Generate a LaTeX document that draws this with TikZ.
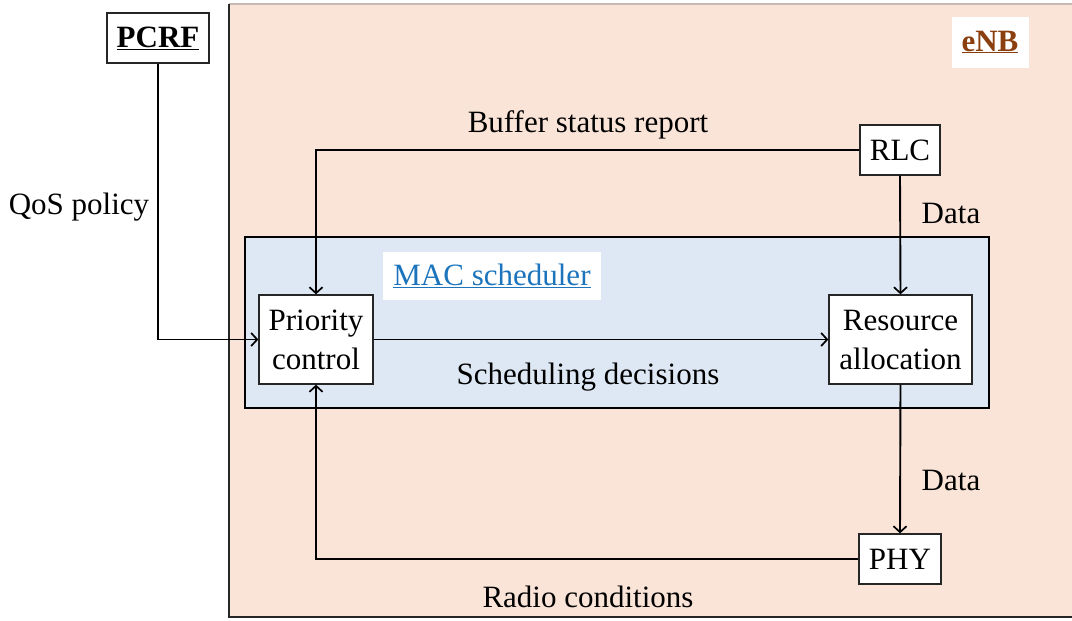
\documentclass[tikz,border=0pt]{standalone}
\usepackage{fontspec}
\setmainfont{Liberation Serif}
\usetikzlibrary{arrows.meta}
\definecolor{enbfill}{HTML}{FAE4D7}
\definecolor{macfill}{HTML}{DEE8F4}
\definecolor{macblue}{HTML}{1C75BC}
\definecolor{enbbrown}{HTML}{8B3E0E}
\definecolor{topgray}{HTML}{C8BAB2}
\tikzset{
  block/.style={draw=black!85, line width=1.3pt, fill=white, inner sep=0pt, align=center,
                font=\fontsize{31}{39}\selectfont},
  lbl/.style={inner sep=0pt, font=\fontsize{31}{38}\selectfont},
  tag/.style={fill=white, inner sep=0pt},
  link/.style={line width=1.9pt, -{Straight Barb[length=6pt,width=13pt,line width=1.7pt]}},
}
\begin{document}
\begin{tikzpicture}[x=1pt,y=-1pt]
\useasboundingbox (0,0) rectangle (1072,621);
% eNB region
\fill[enbfill] (229,4) rectangle (1080,617);
\draw[topgray, line width=1.5pt] (229,4) -- (1080,4);
\draw[black!85, line width=2pt] (229,4) -- (229,617) -- (1080,617);
% MAC scheduler region
\draw[black, line width=1.8pt, fill=macfill] (245,237) rectangle (989,408);

% labels on white tags
\node[tag, minimum width=77pt, minimum height=51pt, font=\fontsize{31}{38}\selectfont\bfseries, text=enbbrown]
  (enb) at (990,42) {\underline{eNB}};
\node[tag, minimum width=218pt, minimum height=48pt, font=\fontsize{31}{38}\selectfont, text=macblue]
  (mac) at (492,276) {\underline{MAC scheduler}};

% blocks
\node[block, minimum width=102pt, minimum height=50pt, font=\fontsize{31}{38}\selectfont\bfseries]
  (pcrf) at (158,38) {\underline{PCRF}};
\node[block, minimum width=80pt, minimum height=50pt] (rlc) at (900,150) {RLC};
\node[block, minimum width=114pt, minimum height=89pt] (pri) at (316,339.5) {Priority\\control};
\node[block, minimum width=143pt, minimum height=89pt] (res) at (900.5,339.5) {Resource\\allocation};
\node[block, minimum width=82pt, minimum height=50pt] (phy) at (900,559) {PHY};

% connectors
\draw[link] (pcrf.south) |- (pri.west);
\draw[link] (rlc.west) -| (pri.north);
\draw[link] (rlc.south) -- (res.north);
\draw[link] (pri.east) -- (res.west);
\draw[link] (res.south) -- (phy.north);
\draw[link] (phy.west) -| (pri.south);

% connector labels
\node[lbl] (qos) at (79,207) {QoS policy};
\node[lbl] (bsr) at (588,125) {Buffer status report};
\node[lbl] (data1) at (951,213) {Data};
\node[lbl] (sched) at (588,377) {Scheduling decisions};
\node[lbl] (data2) at (951,480) {Data};
\node[lbl] (radio) at (588,597) {Radio conditions};
\end{tikzpicture}
\end{document}
